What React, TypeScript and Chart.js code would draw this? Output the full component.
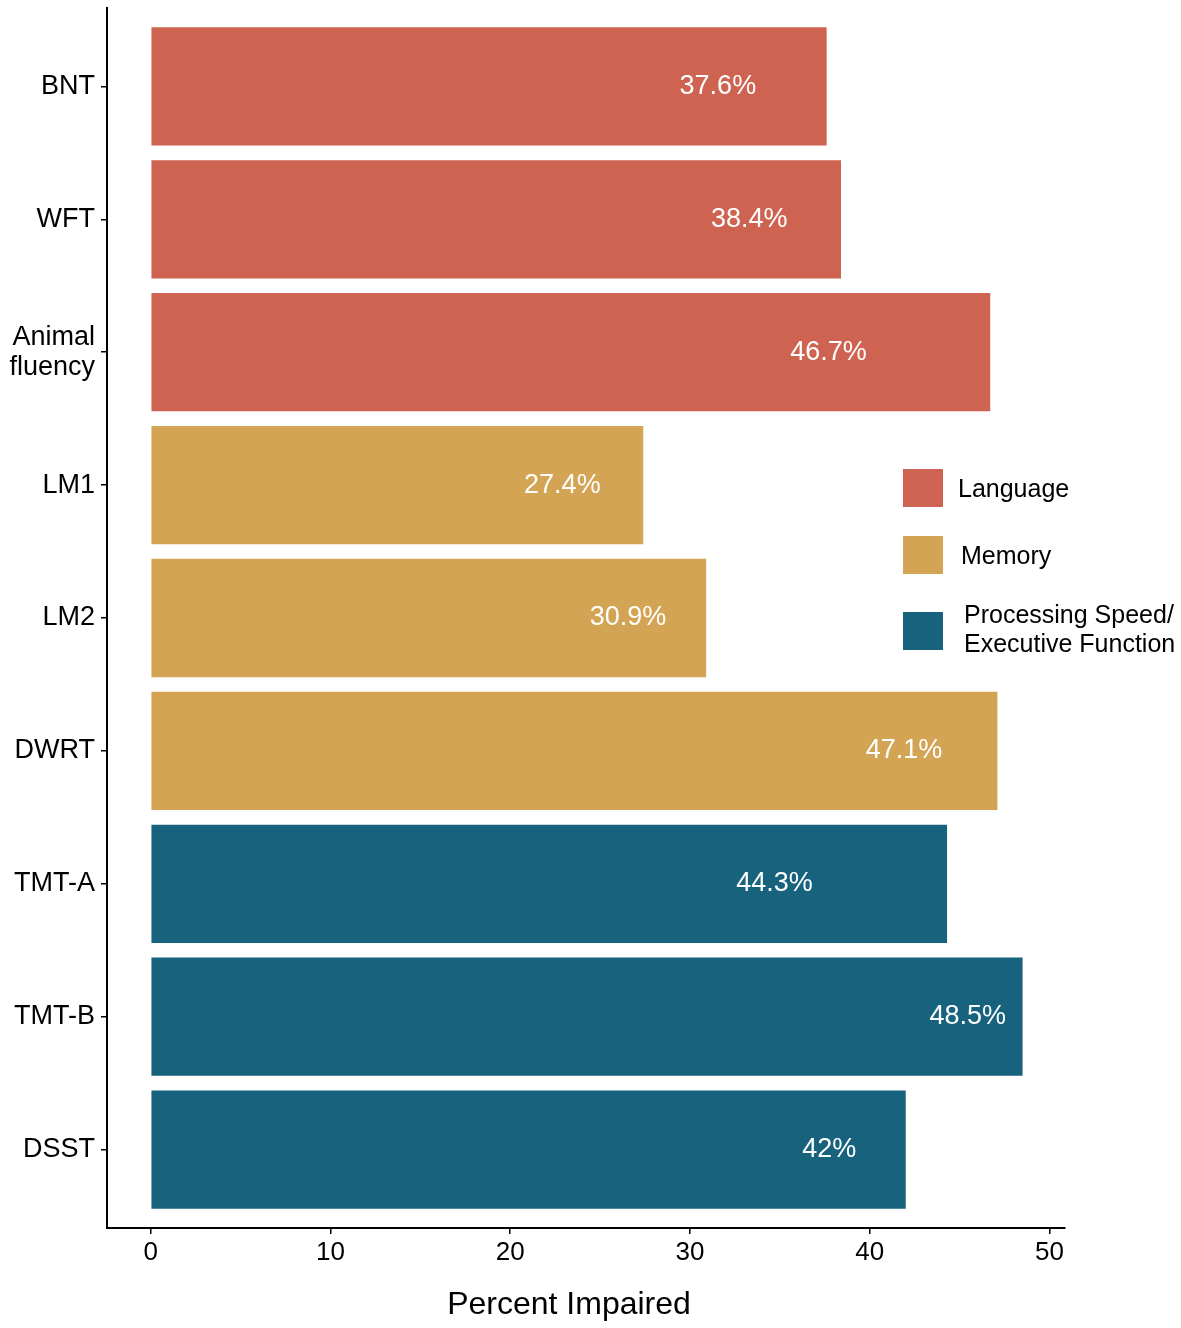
import { useEffect, useRef } from 'react';
import { Chart, registerables } from 'chart.js';

Chart.register(...registerables);

// data
const tests = ['BNT', 'WFT', 'Animal fluency', 'LM1', 'LM2', 'DWRT', 'TMT-A', 'TMT-B', 'DSST'];
const domains = ['Language', 'Language', 'Language', 'Memory', 'Memory', 'Memory', 'Speed', 'Speed', 'Speed'];
const percentImpaired = [37.6, 38.4, 46.7, 27.4, 30.9, 47.1, 44.3, 48.5, 42];
const xTicks = [0, 10, 20, 30, 40, 50];
const legendItems = ['Language', 'Memory', 'Speed'];
const legendLabels = [['Language'], ['Memory'], ['Processing Speed/', 'Executive Function']];

// style
const domainColors: Record<string, string> = {
  Language: '#CD6350',
  Memory: '#D3A453',
  Speed: '#17627C',
};
// how far left of the bar end each value label sits (in axis units)
const labelNudge = [6.05, 5.1, 9.0, 4.5, 4.35, 5.2, 9.6, 3.05, 4.25];
const FONT = '"Liberation Sans", Arial, sans-serif';

const valueLabels = {
  id: 'valueLabels',
  afterDatasetsDraw(chart: Chart) {
    const ctx = chart.ctx;
    const xScale = chart.scales.x;
    const meta = chart.getDatasetMeta(0);
    ctx.save();
    ctx.fillStyle = '#ffffff';
    ctx.font = `27px ${FONT}`;
    ctx.textAlign = 'center';
    ctx.textBaseline = 'middle';
    meta.data.forEach((bar: any, i: number) => {
      const x = xScale.getPixelForValue(percentImpaired[i] - labelNudge[i]);
      ctx.fillText(`${percentImpaired[i]}%`, x, bar.y);
    });
    ctx.restore();
  },
};

const sideLegend = {
  id: 'sideLegend',
  afterDraw(chart: Chart) {
    const ctx = chart.ctx;
    ctx.save();
    const boxTops = [469, 536, 612];
    legendItems.forEach((key, i) => {
      ctx.fillStyle = domainColors[key];
      ctx.fillRect(903, boxTops[i], 40, 38);
      ctx.fillStyle = '#000';
      ctx.font = `25px ${FONT}`;
      ctx.textAlign = 'left';
      ctx.textBaseline = 'middle';
      const lines = legendLabels[i];
      const mid = boxTops[i] + 19;
      lines.forEach((line, j) => {
        const y = mid + (j - (lines.length - 1) / 2) * 29;
        ctx.fillText(line, 958 + i * 3, y + (lines.length === 1 ? 2 : 0));
      });
    });
    // x axis title
    ctx.font = `32px ${FONT}`;
    ctx.textAlign = 'center';
    ctx.fillText('Percent Impaired', 569, 1305);
    ctx.restore();
  },
};

export default function App() {
  const canvasRef = useRef<HTMLCanvasElement>(null);
  const chartRef = useRef<Chart | null>(null);

  useEffect(() => {
    if (!canvasRef.current) return;
    if (chartRef.current) chartRef.current.destroy();

    chartRef.current = new Chart(canvasRef.current, {
      type: 'bar',
      data: {
        datasets: [
          {
            data: tests.map((_, i) => ({ x: percentImpaired[i], y: i })),
            backgroundColor: domains.map((d) => domainColors[d]),
            barPercentage: 0.89,
            categoryPercentage: 1,
            borderWidth: 0,
          },
        ],
      },
      options: {
        indexAxis: 'y',
        animation: false,
        responsive: true,
        maintainAspectRatio: false,
        layout: { padding: { top: 8, right: 116, left: 0, bottom: 0 } },
        plugins: {
          legend: { display: false },
          tooltip: { enabled: false },
        },
        scales: {
          x: {
            type: 'linear',
            min: -2.43,
            max: 50.86,
            offset: false,
            afterBuildTicks: (scale: any) => {
              scale.ticks = xTicks.map((v) => ({ value: v }));
            },
            afterFit: (scale: any) => {
              scale.height = 100;
              scale.paddingLeft = 0;
              scale.paddingRight = 0;
            },
            ticks: {
              color: '#000',
              font: { family: FONT, size: 26 },
              padding: 3,
              maxRotation: 0,
            },
            grid: {
              offset: false,
              drawOnChartArea: false,
              drawTicks: true,
              tickLength: 6,
              color: '#000',
              lineWidth: 1.5,
            },
            border: { display: true, color: '#000', width: 2 },
          },
          y: {
            type: 'linear',
            reverse: true,
            min: -0.59,
            max: 8.59,
            offset: false,
            afterBuildTicks: (scale: any) => {
              scale.ticks = tests.map((_, i) => ({ value: i }));
            },
            afterFit: (scale: any) => {
              scale.width = 107;
              scale.paddingTop = 0;
              scale.paddingBottom = 0;
            },
            ticks: {
              color: '#000',
              font: { family: FONT, size: 27, lineHeight: 1.1 },
              padding: 6,
              callback: (v: any) => {
                const name = tests[Number(v)] ?? '';
                return name.includes(' ') ? name.split(' ') : name;
              },
            },
            grid: {
              offset: false,
              drawOnChartArea: false,
              drawTicks: true,
              tickLength: 6,
              color: '#000',
              lineWidth: 1.5,
            },
            border: { display: true, color: '#000', width: 2 },
          },
        },
      },
      plugins: [valueLabels, sideLegend],
    });

    return () => {
      if (chartRef.current) {
        chartRef.current.destroy();
        chartRef.current = null;
      }
    };
  }, []);

  return (
    <div style={{ position: 'absolute', left: 0, top: 0, width: 1181, height: 1328, background: '#fff' }}>
      <canvas ref={canvasRef} />
    </div>
  );
}
